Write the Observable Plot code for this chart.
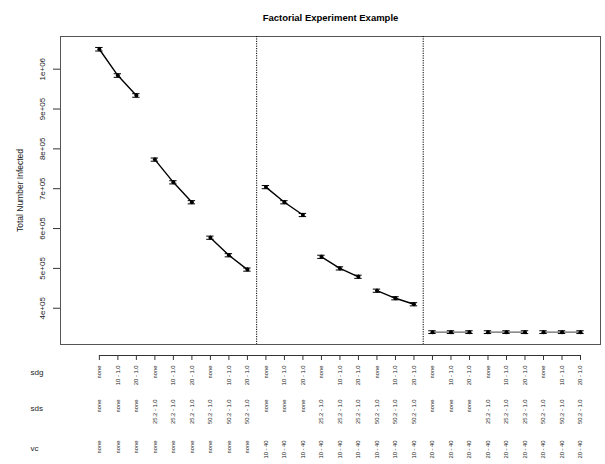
<!DOCTYPE html>
<html>
<head>
<meta charset="utf-8">
<script src="https://cdn.jsdelivr.net/npm/d3@7"></script>
<script src="https://cdn.jsdelivr.net/npm/@observablehq/plot@0.6"></script>
<style>
  body { margin: 0; background: #fff; }
  svg { font-family: "Liberation Sans", Arial, Helvetica, sans-serif; }
</style>
</head>
<body>
<div id="chart"></div>
<script>
const title = "Factorial Experiment Example";
const yLabel = "Total Number Infected";
const rowNames = ["sdg", "sds", "vc"];

const sdg = ["none","10 - 1.0","20 - 1.0","none","10 - 1.0","20 - 1.0","none","10 - 1.0","20 - 1.0",
             "none","10 - 1.0","20 - 1.0","none","10 - 1.0","20 - 1.0","none","10 - 1.0","20 - 1.0",
             "none","10 - 1.0","20 - 1.0","none","10 - 1.0","20 - 1.0","none","10 - 1.0","20 - 1.0"];
const sds = ["none","none","none","25.2 - 1.0","25.2 - 1.0","25.2 - 1.0","50.2 - 1.0","50.2 - 1.0","50.2 - 1.0",
             "none","none","none","25.2 - 1.0","25.2 - 1.0","25.2 - 1.0","50.2 - 1.0","50.2 - 1.0","50.2 - 1.0",
             "none","none","none","25.2 - 1.0","25.2 - 1.0","25.2 - 1.0","50.2 - 1.0","50.2 - 1.0","50.2 - 1.0"];
const vc  = ["none","none","none","none","none","none","none","none","none",
             "10 - 40","10 - 40","10 - 40","10 - 40","10 - 40","10 - 40","10 - 40","10 - 40","10 - 40",
             "20 - 40","20 - 40","20 - 40","20 - 40","20 - 40","20 - 40","20 - 40","20 - 40","20 - 40"];

const infected = [1050000, 984000, 934000, 773000, 716000, 666000, 577000, 533000, 497000,
                  704000, 666000, 634000, 529000, 500000, 479000, 444000, 425000, 410000,
                  340000, 340000, 340000, 340000, 340000, 340000, 340000, 340000, 340000];
const err = [4500, 4500, 4500, 4000, 4000, 4000, 4000, 4000, 4000,
             4000, 4000, 4000, 4000, 4000, 4000, 4000, 4000, 4000,
             3500, 3500, 3500, 3500, 3500, 3500, 3500, 3500, 3500];
const group = [0,0,0,1,1,1,2,2,2,3,3,3,4,4,4,5,5,5,6,6,6,7,7,7,8,8,8];
const dividers = [8.5, 17.5];

const yTicks = [400000, 500000, 600000, 700000, 800000, 900000, 1000000];
const yTickLabels = ["4e+05", "5e+05", "6e+05", "7e+05", "8e+05", "9e+05", "1e+06"];

const yDomain = [309000, 1082000];
const xDomain = [-2.1, 27.08];

const rows = infected.map((v, i) => ({
  i, v, err: err[i], group: group[i], sdg: sdg[i], sds: sds[i], vc: vc[i]
}));
const steep = rows.filter(d => d.group < 6);
const flat = rows.filter(d => d.group >= 6);
const capW = 0.2;
const font = "Liberation Sans, Arial, Helvetica, sans-serif";
const labelFill = "#222";

const chart = Plot.plot({
  width: 605,
  height: 464,
  marginLeft: 60,
  marginRight: 5,
  marginTop: 36,
  marginBottom: 120,
  style: { fontFamily: font, background: "white" },
  x: { domain: xDomain, axis: null },
  y: { domain: yDomain, axis: null },
  marks: [
    Plot.frame({ stroke: "#555", strokeWidth: 1 }),
    Plot.ruleX(dividers, { stroke: "#000", strokeDasharray: "1.2,1.2", strokeWidth: 1 }),
    Plot.line(steep, { x: "i", y: "v", z: "group", stroke: "#000", strokeWidth: 1.4 }),
    Plot.line(flat, { x: "i", y: "v", z: "group", stroke: "#666", strokeWidth: 1.2 }),
    Plot.ruleX(rows, { x: "i", y1: d => d.v - d.err, y2: d => d.v + d.err, stroke: "#000", strokeWidth: 1 }),
    Plot.ruleY(rows, { y: d => d.v - d.err, x1: d => d.i - capW, x2: d => d.i + capW, stroke: "#000", strokeWidth: 1 }),
    Plot.ruleY(rows, { y: d => d.v + d.err, x1: d => d.i - capW, x2: d => d.i + capW, stroke: "#000", strokeWidth: 1 }),
    Plot.dot(rows, { x: "i", y: "v", r: 2, fill: "#000", stroke: "none" }),

    // y axis
    Plot.axisY({ ticks: yTicks, tickSize: 7, tickFormat: () => "", stroke: "#333", label: null }),
    Plot.text(yTicks, { y: d => d, text: (d, k) => yTickLabels[k], frameAnchor: "left", dx: -18,
      rotate: -90, textAnchor: "middle", lineAnchor: "middle", fontSize: 8, fill: labelFill }),
    Plot.text([yLabel], { frameAnchor: "left", dx: -40, rotate: -90, textAnchor: "middle",
      lineAnchor: "middle", fontSize: 8.5, fill: labelFill }),

    // title
    Plot.text([title], { frameAnchor: "top", dy: -22, fontWeight: "bold", fontSize: 9.5, fill: "#000" }),

    // bottom factor axis
    Plot.link([rows[0]], { x1: () => rows[0].i, x2: () => rows[rows.length - 1].i,
      y1: () => yDomain[0], y2: () => yDomain[0], dy: 11, stroke: "#333", strokeWidth: 1 }),
    Plot.axisX({ ticks: rows.map(d => d.i), tickSize: 5, dy: 11, tickFormat: () => "", stroke: "#333", label: null }),
    Plot.text(rows, { x: "i", text: "sdg", frameAnchor: "bottom", dy: 21, rotate: -90,
      textAnchor: "end", lineAnchor: "middle", fontSize: 5.8, fill: labelFill }),
    Plot.text(rows, { x: "i", text: "sds", frameAnchor: "bottom", dy: 55, rotate: -90,
      textAnchor: "end", lineAnchor: "middle", fontSize: 5.8, fill: labelFill }),
    Plot.text(rows, { x: "i", text: "vc", frameAnchor: "bottom", dy: 96, rotate: -90,
      textAnchor: "end", lineAnchor: "middle", fontSize: 5.8, fill: labelFill }),
    Plot.text([rowNames[0]], { frameAnchor: "bottom-left", dx: -30, dy: 28, textAnchor: "start",
      lineAnchor: "middle", fontSize: 8, fill: labelFill }),
    Plot.text([rowNames[1]], { frameAnchor: "bottom-left", dx: -30, dy: 64, textAnchor: "start",
      lineAnchor: "middle", fontSize: 8, fill: labelFill }),
    Plot.text([rowNames[2]], { frameAnchor: "bottom-left", dx: -30, dy: 104, textAnchor: "start",
      lineAnchor: "middle", fontSize: 8, fill: labelFill })
  ]
});
document.getElementById("chart").appendChild(chart);
</script>
</body>
</html>
